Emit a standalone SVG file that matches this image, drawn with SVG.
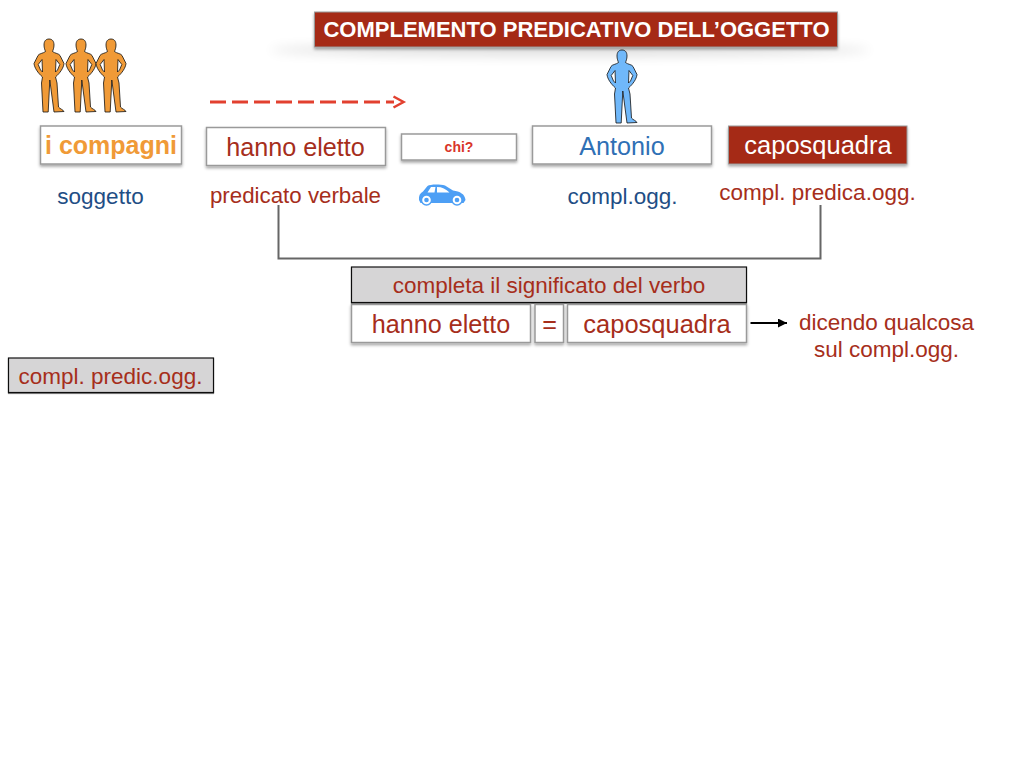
<svg xmlns="http://www.w3.org/2000/svg" xmlns:xlink="http://www.w3.org/1999/xlink" width="1024" height="768" viewBox="0 0 1024 768">
<style>
text{font-family:"Liberation Sans",Arial,sans-serif;text-anchor:middle;fill:#a62e1b}
.b{fill:#fff;stroke:#9a9a9a;stroke-width:1.5;filter:url(#s)}
.g{fill:#d6d5d6;stroke:#111;stroke-width:1.200;filter:url(#s2)}
.r{fill:#a52a16;stroke:#999;stroke-width:1;filter:url(#s)}
.n{font-size:22.500px}
.t{font-size:25.200px}
.c{font-size:25.500px}
.p{stroke:#111;stroke-width:.8;fill-rule:evenodd}
</style>
<defs>
<filter id="s" x="-10%" y="-20%" width="120%" height="150%"><feDropShadow dx="0" dy="2" stdDeviation="1.500" flood-color="#000" flood-opacity=".35"/></filter>
<filter id="s2" x="-5%" y="-10%" width="110%" height="130%"><feDropShadow dx="0" dy="1" stdDeviation=".5" flood-color="#000" flood-opacity=".5"/></filter>
<filter id="bl" x="-10%" y="-150%" width="120%" height="400%"><feGaussianBlur stdDeviation="6"/></filter>
<marker id="ah" markerWidth="10" markerHeight="10" refX="9" refY="4.500" orient="auto" markerUnits="userSpaceOnUse"><path d="M0 0L9 4.500L0 9Z" fill="#000"/></marker>
<path id="man" d="M0 0C3.500 0 5 2.500 5 6C5 9 4 11 3.500 12.500C6 14.500 10 14.500 11 16.500L15 24.500C14.500 29 11 34 6.500 38L8 44L9.500 68C11 70 14 70.500 15 72.500L5 73L.8 41L-.8 73L-6 73L-7.500 44L-6.500 38C-11 34 -14.500 29 -15 24.500L-11 16.500C-10 14.500 -6 14.500 -3.500 12.500C-4 11 -5 9 -5 6C-5 2.500 -3.500 0 0 0ZM-7 20.500L-10.800 25.500L-8.500 31L-6.500 33ZM7 20.500L6.500 33L8.500 31L10.800 25.500Z"/>
</defs>

<g id="connectors">
<path d="M278.500 205V258.500H820.500V205" fill="none" stroke="#666" stroke-width="2"/>
<line x1="210" y1="102" x2="394" y2="102" stroke="#e2402f" stroke-width="3" stroke-dasharray="16 6"/>
<path d="M393.500 96.500L403.500 102L393.500 107.500" fill="none" stroke="#e2402f" stroke-width="2.500"/>
<line x1="750.500" y1="323" x2="787" y2="323" stroke="#000" stroke-width="2" marker-end="url(#ah)"/>
</g>

<g id="title">
<ellipse cx="570" cy="50" rx="300" ry="6" fill="#000" opacity=".13" filter="url(#bl)"/>
<rect class="r" x="314.500" y="12" width="523" height="35"/>
<text x="576.500" y="37" font-size="22px" font-weight="700" style="fill:#fff">COMPLEMENTO PREDICATIVO DELL’OGGETTO</text>
</g>

<g id="people-orange">
<use xlink:href="#man" href="#man" class="p" x="49" y="39" fill="#f09a37"/>
<use xlink:href="#man" href="#man" class="p" x="81" y="39" fill="#f09a37"/>
<use xlink:href="#man" href="#man" class="p" x="111" y="39" fill="#f09a37"/>
</g>
<g id="person-blue"><use xlink:href="#man" href="#man" class="p" x="622" y="50" fill="#70b8fa"/></g>

<g id="n-compagni"><rect class="b" x="40.500" y="126" width="141" height="38"/>
<text x="111" y="154" font-weight="700" font-size="25px" style="fill:#f09a37">i compagni</text></g>
<g id="n-hanno"><rect class="b" x="206.500" y="127.500" width="179" height="38"/>
<text class="t" x="295.500" y="156">hanno eletto</text></g>
<g id="n-chi"><rect class="b" x="401.500" y="134" width="115" height="26"/>
<text x="459" y="152" font-size="14px" font-weight="700" style="fill:#d9352a">chi?</text></g>
<g id="n-antonio"><rect class="b" x="532.500" y="126" width="179" height="38"/>
<text class="t" x="622" y="155" style="fill:#2f70b5">Antonio</text></g>
<g id="n-capo"><rect class="r" x="728.500" y="126" width="178.500" height="38"/>
<text class="c" x="818" y="154" style="fill:#fff">caposquadra</text></g>

<g id="l-soggetto"><text class="n" x="100.500" y="204" style="fill:#1f4e85">soggetto</text></g>
<g id="l-pred"><text x="295.500" y="203" font-size="22.300px">predicato verbale</text></g>
<g id="car"><path d="M419 200C418.500 196 420 193 423 191.500L427.500 186C430 184 440 184 445 185.500L453 190.500C460 191.500 465 194 465.500 200L463.500 203H420.500Z" fill="#4d9ff5"/>
<path d="M427.500 192.500L431 187H435.500L434.500 192.500ZM437 192.500V187C442 187 446 189 449.500 192.500Z" fill="#fff"/>
<g fill="#4d9ff5"><circle cx="426.500" cy="200" r="5.800"/><circle cx="457" cy="200" r="5.800"/></g>
<g fill="#fff"><circle cx="426.500" cy="200" r="4.300"/><circle cx="457" cy="200" r="4.300"/></g>
<g fill="#4d9ff5"><circle cx="426.500" cy="200" r="2.300"/><circle cx="457" cy="200" r="2.300"/></g></g>
<g id="l-ogg"><text class="n" x="622.500" y="204" style="fill:#1f4e85">compl.ogg.</text></g>
<g id="l-predogg"><text class="n" x="817.500" y="200">compl. predica.ogg.</text></g>

<g id="n-completa"><rect class="g" x="351.500" y="267" width="395" height="35.500"/>
<text class="n" x="549" y="293">completa il significato del verbo</text></g>
<g id="n-hanno2"><rect class="b" x="351.500" y="304.500" width="179" height="38"/>
<text class="t" x="441" y="333">hanno eletto</text></g>
<g id="n-eq"><rect class="b" x="535" y="304.500" width="28.500" height="38"/>
<text class="t" x="549.500" y="333">=</text></g>
<g id="n-capo2"><rect class="b" x="567.500" y="304.500" width="179" height="38"/>
<text class="c" x="657" y="333">caposquadra</text></g>
<g id="l-dicendo"><text class="n" x="886.500" y="330">dicendo qualcosa</text>
<text class="n" x="886.500" y="357">sul compl.ogg.</text></g>
<g id="n-predic"><rect class="g" x="8.500" y="358" width="205" height="34.500"/>
<text class="n" x="110.500" y="384">compl. predic.ogg.</text></g>
</svg>
